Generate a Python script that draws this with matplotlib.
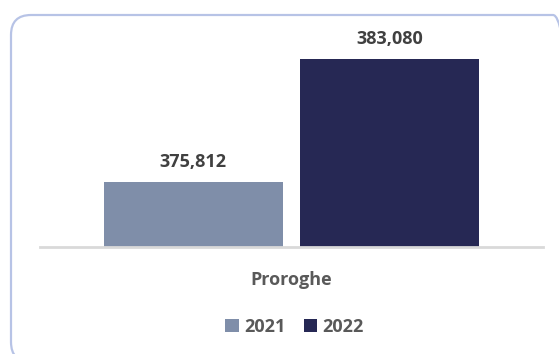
import matplotlib
matplotlib.use("Agg")
import matplotlib.pyplot as plt
from matplotlib import font_manager
from matplotlib.font_manager import FontProperties
from matplotlib.patches import FancyBboxPatch, Patch

categories = ["Proroghe"]
years = ["2021", "2022"]
values_2021 = [375812]
values_2022 = [383080]
colors = ["#7f8ea9", "#262854"]


def bold_font(size):
    """Pick a regular-width bold sans face from the installed fonts."""
    for name in ["Open Sans", "Noto Sans", "Roboto", "Lato"]:
        for f in font_manager.fontManager.ttflist:
            if (f.name == name and f.style == "normal"
                    and f.stretch == "normal" and f.weight == 700
                    and "ondensed" not in f.fname):
                return FontProperties(fname=f.fname, size=size)
    return FontProperties(family="DejaVu Sans", weight="bold", size=size)


fp = bold_font(13)

fig = plt.figure(figsize=(5.59, 3.54), dpi=100)
fig.patch.set_facecolor("white")

# rounded frame around the chart
frame = FancyBboxPatch((0.11, -0.08), 5.62, 3.47,
                       boxstyle="round,pad=0,rounding_size=0.2",
                       transform=fig.dpi_scale_trans, facecolor="none",
                       edgecolor="#b7c3e6", linewidth=1.6, clip_on=False)
fig.patches.append(frame)

ax = fig.add_axes([40 / 559, 107 / 354, 503 / 559, 204 / 354])
ax.set_xlim(-0.5, 0.5)
ax.set_ylim(372000, 384000)

bar_w = 0.356
offset = bar_w / 2 + 0.017
series = [values_2021, values_2022]
for i, (vals, col) in enumerate(zip(series, colors)):
    pos = [j + (-offset if i == 0 else offset) for j in range(len(categories))]
    bars = ax.bar(pos, vals, width=bar_w, color=col, bottom=0, zorder=2)
    for b, v in zip(bars, vals):
        ax.annotate(f"{v:,}", (b.get_x() + b.get_width() / 2, v),
                    xytext=(0, 8), textcoords="offset points",
                    ha="center", va="bottom", fontproperties=fp,
                    color="#404040")

for s in ["top", "right", "left"]:
    ax.spines[s].set_visible(False)
ax.spines["bottom"].set_color("#d9d9d9")
ax.spines["bottom"].set_linewidth(2)
ax.spines["bottom"].set_zorder(3)
ax.set_yticks([])
ax.set_xticks(range(len(categories)))
ax.set_xticklabels(categories, fontproperties=fp, color="#595959")
ax.tick_params(axis="x", length=0, pad=17)
ax.set_facecolor("none")

handles = [Patch(facecolor=c, edgecolor="none") for c in colors]
fig.legend(handles, years, loc="center", bbox_to_anchor=(294.5 / 559, 27 / 354),
           ncol=2, frameon=False, handlelength=0.75, handleheight=0.75,
           handletextpad=0.3, columnspacing=1.0,
           prop=fp, labelcolor="#595959")

fig.savefig("out.png", dpi=100)
